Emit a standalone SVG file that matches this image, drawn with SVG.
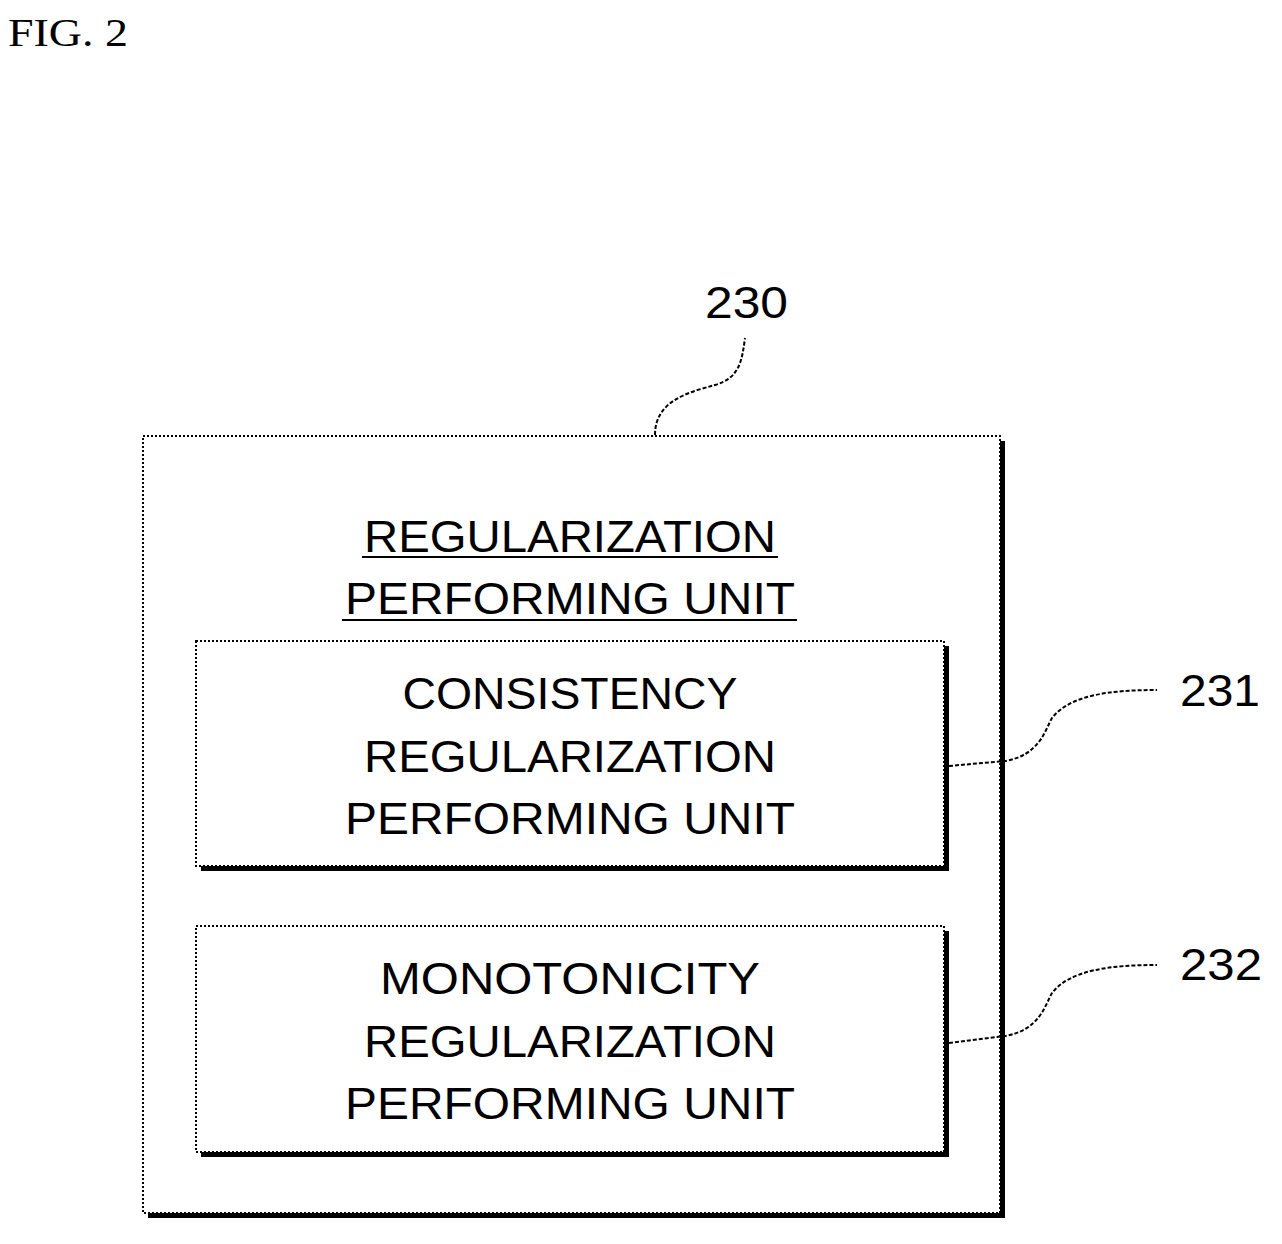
<svg xmlns="http://www.w3.org/2000/svg" width="1282" height="1244" viewBox="0 0 1282 1244">
<style>
.box{fill:#fff;stroke:#000;stroke-width:2;stroke-dasharray:2 2}
.sh{fill:#000}
.t{font-family:"Liberation Sans",Arial,sans-serif;font-size:44px;fill:#000;text-anchor:middle}
.lbl{font-family:"Liberation Sans",Arial,sans-serif;font-size:44px;fill:#000}
.ld{fill:none;stroke:#000;stroke-width:2;stroke-dasharray:4 2}
</style>
<rect width="1282" height="1244" fill="#fff"/>
<text x="8" y="46" font-family="Liberation Serif,serif" font-size="40" textLength="120" lengthAdjust="spacingAndGlyphs">FIG. 2</text>
<g id="n230">
<rect class="sh" x="148" y="441" width="857" height="777"/>
<rect class="box" x="143" y="436" width="857" height="777"/>
<text class="t" x="570" y="552" textLength="412" lengthAdjust="spacingAndGlyphs">REGULARIZATION</text>
<text class="t" x="570" y="614" textLength="450" lengthAdjust="spacingAndGlyphs">PERFORMING UNIT</text>
<line x1="362" y1="557" x2="778" y2="557" stroke="#000" stroke-width="2"/>
<line x1="342" y1="620" x2="797" y2="620" stroke="#000" stroke-width="2"/>
<text class="lbl" x="705" y="318" textLength="83" lengthAdjust="spacingAndGlyphs">230</text>
</g>
<g id="n231">
<rect class="sh" x="201" y="646" width="748" height="225"/>
<rect class="box" x="196" y="641" width="748" height="225"/>
<text class="t" x="570" y="709" textLength="335" lengthAdjust="spacingAndGlyphs">CONSISTENCY</text>
<text class="t" x="570" y="772" textLength="412" lengthAdjust="spacingAndGlyphs">REGULARIZATION</text>
<text class="t" x="570" y="834" textLength="450" lengthAdjust="spacingAndGlyphs">PERFORMING UNIT</text>
<text class="lbl" x="1180" y="706" textLength="80" lengthAdjust="spacingAndGlyphs">231</text>
</g>
<g id="n232">
<rect class="sh" x="201" y="931" width="748" height="226"/>
<rect class="box" x="196" y="926" width="748" height="226"/>
<text class="t" x="570" y="994" textLength="380" lengthAdjust="spacingAndGlyphs">MONOTONICITY</text>
<text class="t" x="570" y="1057" textLength="412" lengthAdjust="spacingAndGlyphs">REGULARIZATION</text>
<text class="t" x="570" y="1119" textLength="450" lengthAdjust="spacingAndGlyphs">PERFORMING UNIT</text>
<text class="lbl" x="1180" y="980" textLength="82" lengthAdjust="spacingAndGlyphs">232</text>
</g>
<g id="connectors">
<path class="ld" d="M655,435 C655,400 690,392 715,385 C740,378 742,360 745,338"/>
<path class="ld" d="M949,766 L1005,761 C1040,755 1045,730 1052,718 C1070,695 1110,690 1157,690"/>
<path class="ld" d="M949,1043 L1005,1036 C1040,1030 1045,1005 1052,993 C1070,970 1110,965 1157,965"/>
</g>
</svg>
